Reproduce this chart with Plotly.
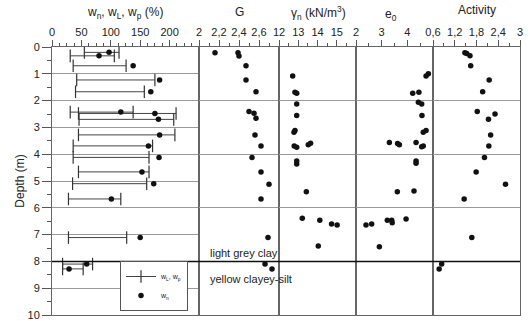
import plotly.graph_objects as go

# ---------------- data ----------------
# water content panel
w_depth = [0.20, 0.33, 0.70, 1.23, 1.67, 2.43, 2.48, 2.70, 3.28, 3.69, 4.12, 4.66, 5.10, 5.67, 7.11, 8.10, 8.28]
w_n = [97, 80, 138, 183, 168, 117, 175, 181, 183, 164, 182, 153, 173, 101, 150, 59, 29]
w_p = [55, 31, 36, 42, 40, 31, 45, 46, 45, 36, 36, 45, 35, 28, 28, 18, 18]
w_L = [114, 106, 126, 175, 157, 138, 211, 207, 209, 171, 165, 165, 161, 117, 127, 69, 53]

# specific gravity
G_depth = [0.21, 0.21, 0.34, 0.70, 1.23, 1.67, 2.41, 2.47, 2.66, 3.28, 3.69, 4.12, 4.66, 5.12, 5.67, 7.11, 8.10, 8.28]
G_val = [2.16, 2.39, 2.40, 2.47, 2.47, 2.57, 2.50, 2.55, 2.57, 2.56, 2.62, 2.53, 2.62, 2.70, 2.62, 2.69, 2.66, 2.73]

# unit weight
gam_depth = [1.08, 1.69, 1.73, 2.13, 2.56, 3.12, 3.18, 3.69, 3.74, 3.65, 3.59, 4.25, 4.37, 5.40, 6.39, 6.46, 6.60, 6.64, 7.43]
gam_val = [12.71, 12.83, 12.92, 12.92, 12.92, 12.83, 12.78, 12.79, 12.92, 13.52, 13.64, 12.92, 12.92, 13.42, 13.21, 14.12, 14.73, 15.02, 14.04]

# void ratio
e0_depth = [1.00, 1.08, 1.69, 1.73, 2.06, 2.13, 2.56, 3.12, 3.18, 3.56, 3.60, 3.65, 3.56, 3.69, 3.72, 4.25, 4.34, 5.37, 5.40, 6.42, 6.46, 6.46, 6.56, 6.60, 6.64, 7.45]
e0_val = [4.82, 4.73, 4.45, 4.21, 4.43, 4.56, 4.57, 4.73, 4.62, 3.30, 3.62, 3.69, 4.34, 4.62, 4.56, 4.34, 4.34, 4.26, 3.61, 3.95, 3.22, 3.39, 3.41, 2.61, 2.39, 2.91]

# activity
act_depth = [0.21, 0.24, 0.33, 0.70, 1.23, 1.67, 2.41, 2.50, 2.70, 3.28, 3.69, 4.12, 4.66, 5.12, 5.67, 7.11, 8.10, 8.28]
act_val = [1.48, 1.53, 1.62, 1.64, 2.15, 1.97, 1.82, 2.31, 2.13, 2.19, 2.14, 2.02, 1.79, 2.60, 1.46, 1.67, 0.84, 0.77]

# axes
depth_ticks = list(range(0, 11))
w_ticks = [0, 50, 100, 150, 200]
G_ticks = [2.0, 2.2, 2.4, 2.6]
G_text = ["2", "2,2", "2,4", "2,6"]
gam_ticks = [12, 13, 14, 15]
e0_ticks = [2, 3, 4]
act_ticks = [0.6, 1.2, 1.8, 2.4, 3.0]
act_text = ["0,6", "1,2", "1,8", "2,4", "3"]

# ---------------- figure ----------------
W, H = 530, 321
PL, PT, PR, PB = 52, 47, 520, 315     # plot area in page pixels
ML, MT = PL, PT
PW, PH = PR - PL, PB - PT
MR, MB = W - ML - PW, H - MT - PH
edges = [52, 199, 279, 356, 433, 520]   # panel boundaries (px)


def px(x):
    return (x - PL) / PW


def py(y):
    return 1 - (y - PT) / PH


fig = go.Figure()
dot = dict(color="#111111", size=5.5)

# w bars
bx, by = [], []
for d, a, b in zip(w_depth, w_p, w_L):
    bx += [a, b, None]
    by += [d, d, None]
fig.add_trace(go.Scatter(x=bx, y=by, mode="lines+markers", name="w<sub>L</sub>, w<sub>p</sub>",
                         line=dict(color="#444444", width=1),
                         marker=dict(symbol="line-ns", size=9, line=dict(width=1.2, color="#333333")),
                         xaxis="x", yaxis="y"))
fig.add_trace(go.Scatter(x=w_n, y=w_depth, mode="markers", name="w<sub>n</sub>", marker=dot,
                         xaxis="x", yaxis="y"))
fig.add_trace(go.Scatter(x=G_val, y=G_depth, mode="markers", marker=dot, showlegend=False,
                         xaxis="x2", yaxis="y2"))
fig.add_trace(go.Scatter(x=gam_val, y=gam_depth, mode="markers", marker=dot, showlegend=False,
                         xaxis="x3", yaxis="y3"))
fig.add_trace(go.Scatter(x=e0_val, y=e0_depth, mode="markers", marker=dot, showlegend=False,
                         xaxis="x4", yaxis="y4"))
fig.add_trace(go.Scatter(x=act_val, y=act_depth, mode="markers", marker=dot, showlegend=False,
                         xaxis="x5", yaxis="y5"))

FAM = "Liberation Sans, Arial, sans-serif"
tickfont = dict(family=FAM, size=11, color="#222222")
xcommon = dict(side="top", ticks="outside", ticklen=6, tickcolor="#555555", tickwidth=1,
               showline=True, linecolor="#666666", linewidth=1, mirror=True,
               showgrid=False, zeroline=False, tickfont=tickfont, automargin=False,
               ticklabeloverflow="allow")

xcfg = [
    (dict(range=[0, 250], tickvals=w_ticks), dict(tick0=0, dtick=12.5)),
    (dict(range=[2, 2.8], tickvals=G_ticks, ticktext=G_text), dict(tick0=2, dtick=0.1)),
    (dict(range=[12, 16], tickvals=gam_ticks), dict(tick0=12, dtick=0.5)),
    (dict(range=[2, 5], tickvals=e0_ticks), dict(tick0=2, dtick=0.5)),
    (dict(range=[0.6, 3.0], tickvals=act_ticks, ticktext=act_text), dict(tick0=0.6, dtick=0.3)),
]
layout_axes = {}
for i, (c, m) in enumerate(xcfg, start=1):
    key = "xaxis" if i == 1 else f"xaxis{i}"
    yname = "y" if i == 1 else f"y{i}"
    layout_axes[key] = dict(**xcommon, **c, anchor=yname,
                            domain=[px(edges[i - 1]), px(edges[i])],
                            minor=dict(ticks="outside", ticklen=3, tickcolor="#555555", **m))
    ykey = "yaxis" if i == 1 else f"yaxis{i}"
    xname = "x" if i == 1 else f"x{i}"
    ycfg = dict(range=[10, 0], showgrid=True, gridcolor="#9a9a9a", gridwidth=1,
                showline=True, linecolor="#666666", linewidth=1, mirror=True,
                zeroline=False, anchor=xname, domain=[0, 1], automargin=False)
    if i == 1:
        ycfg.update(tickvals=depth_ticks, ticks="outside", ticklen=9, tickcolor="#555555",
                    minor=dict(ticks="outside", ticklen=4, dtick=0.5, tick0=0,
                               tickcolor="#555555", showgrid=False),
                    tickfont=tickfont,
                    title=dict(text="Depth (m)", standoff=0,
                               font=dict(family=FAM, size=12, color="#222222")))
    else:
        ycfg.update(matches="y", showticklabels=False, ticks="")
    layout_axes[ykey] = ycfg

fig.update_layout(**layout_axes)

# thick boundary line at 8 m
fig.add_shape(type="line", xref="paper", yref="y", x0=0, x1=1, y0=8, y1=8,
              line=dict(color="#111111", width=1.5))

tfont = dict(family=FAM, size=12, color="#222222")
titles = [
    ("w<sub>n</sub>, w<sub>L</sub>, w<sub>p</sub> (%)", 125, 13),
    ("G", 239, 12),
    ("γ<sub>n</sub> (kN/m<sup>3</sup>)", 318, 13),
    ("e<sub>0</sub>", 391, 15),
    ("Activity", 477, 10),
]
for t, x, y in titles:
    fig.add_annotation(text=t, xref="paper", yref="paper", x=px(x), y=py(y),
                       showarrow=False, font=tfont, xanchor="center", yanchor="middle")

lfont = dict(family=FAM, size=11, color="#222222")
fig.add_annotation(text="light grey clay", xref="x2", yref="y", x=2.09, y=7.69,
                   showarrow=False, font=lfont, xanchor="left", yanchor="middle")
fig.add_annotation(text="yellow clayey-silt", xref="x2", yref="y", x=2.09, y=8.66,
                   showarrow=False, font=lfont, xanchor="left", yanchor="middle")

fig.update_layout(
    width=W, height=H,
    margin=dict(l=ML, r=MR, t=MT, b=MB, autoexpand=False),
    plot_bgcolor="white", paper_bgcolor="white",
    font=dict(family=FAM, color="#222222"),
    legend=dict(x=px(120), y=py(286), xanchor="left", yanchor="middle",
                bgcolor="white", bordercolor="#555555", borderwidth=1,
                font=dict(size=7), itemwidth=30, tracegroupgap=0),
)

fig.write_html("out.html", config={"displayModeBar": False},
               post_script="document.body.style.margin='0';document.body.style.overflow='hidden';")
